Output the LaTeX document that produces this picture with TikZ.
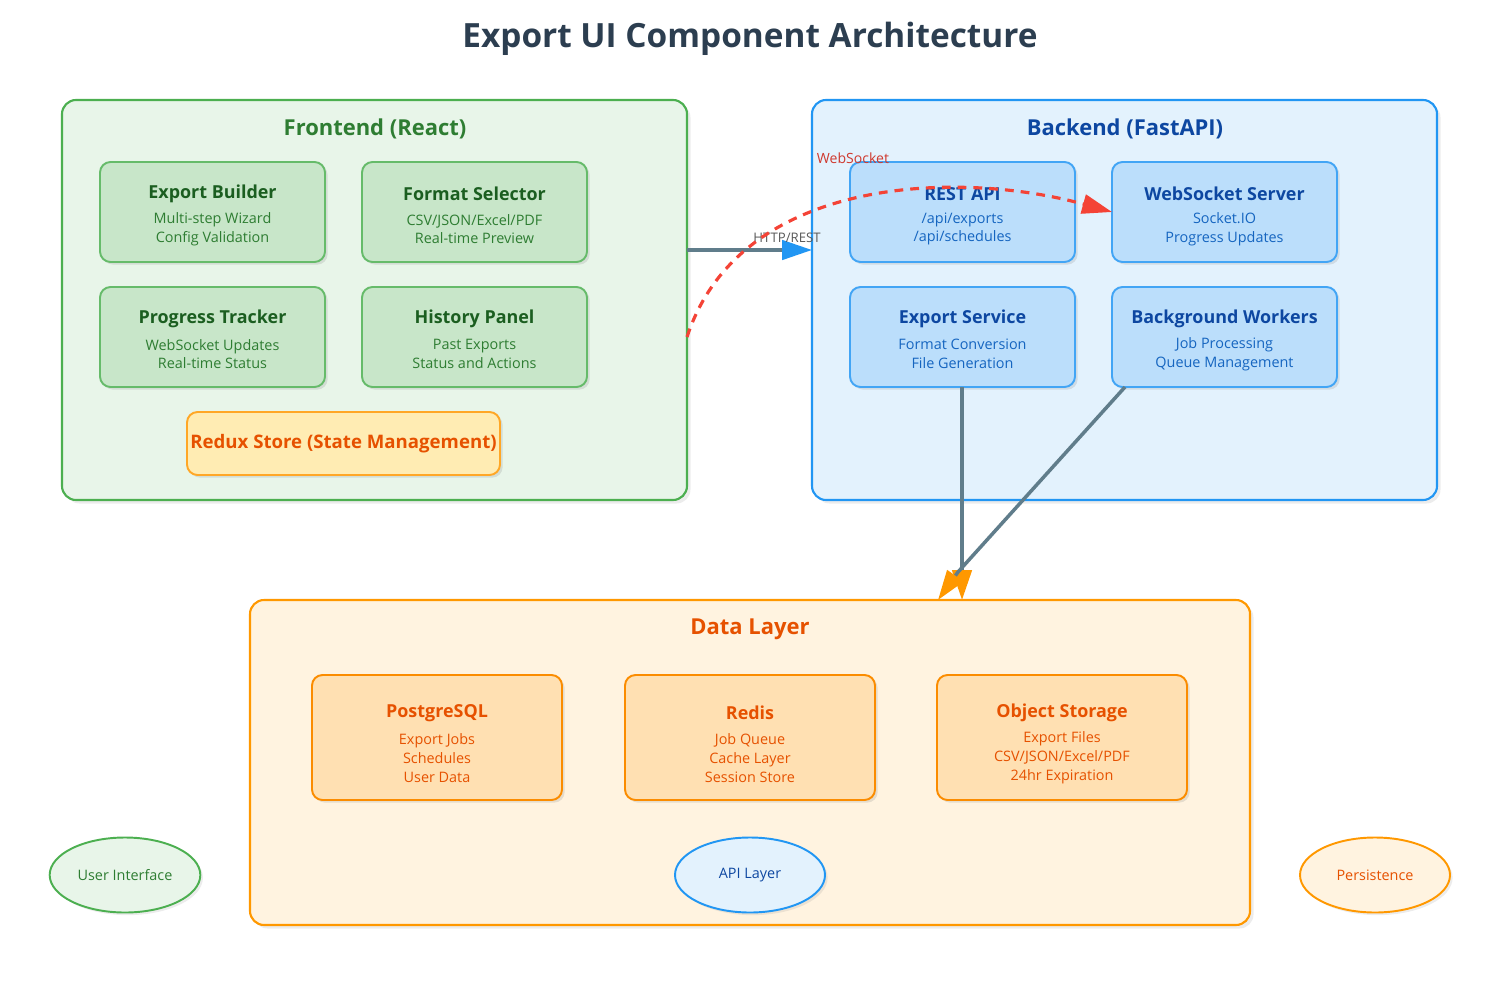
\documentclass[tikz,border=0pt]{standalone}
\usepackage{fontspec}
\setmainfont{Open Sans}
\usetikzlibrary{arrows.meta,shadows,shapes.geometric}
\definecolor{gB}{HTML}{E8F5E9}\definecolor{gS}{HTML}{4CAF50}\definecolor{gI}{HTML}{C8E6C9}\definecolor{gIS}{HTML}{66BB6A}
\definecolor{gT}{HTML}{1B5E20}\definecolor{gT2}{HTML}{2E7D32}
\definecolor{bB}{HTML}{E3F2FD}\definecolor{bS}{HTML}{2196F3}\definecolor{bI}{HTML}{BBDEFB}\definecolor{bIS}{HTML}{42A5F5}
\definecolor{bT}{HTML}{0D47A1}\definecolor{bT2}{HTML}{1565C0}
\definecolor{oB}{HTML}{FFF3E0}\definecolor{oS}{HTML}{FF9800}\definecolor{oI}{HTML}{FFE0B2}\definecolor{oIS}{HTML}{FB8C00}
\definecolor{oT}{HTML}{E65100}\definecolor{rY}{HTML}{FFECB3}\definecolor{rYS}{HTML}{FFA726}
\definecolor{ttl}{HTML}{2C3E50}\definecolor{ar}{HTML}{607D8B}\definecolor{rd}{HTML}{F44336}
\begin{document}
\begin{tikzpicture}[x=0.02cm,y=-0.02cm,
 grp/.style={draw=#1,line width=1.2pt,rounded corners=8pt,drop shadow={opacity=0.15,shadow xshift=2pt,shadow yshift=-2pt}},
 card/.style={draw=#1,line width=1.1pt,rounded corners=6pt,drop shadow={opacity=0.2,shadow xshift=1.5pt,shadow yshift=-1.5pt}},
 gh/.style={font=\bfseries\fontsize{12.5}{14}\selectfont},
 ct/.style={font=\bfseries\fontsize{10.2}{12}\selectfont},
 cs/.style={font=\fontsize{8.2}{10.7}\selectfont,align=center},
 leg/.style={ellipse,draw=#1,line width=1.1pt,minimum width=150*0.02cm,minimum height=75*0.02cm,font=\fontsize{8.2}{10}\selectfont,drop shadow={opacity=0.15,shadow xshift=1.5pt,shadow yshift=-1.5pt}},
 tip/.style={-{Triangle[length=17pt,width=11pt,color=#1]}},
]
\useasboundingbox (0,0) rectangle (1500,1000);
\node[font=\bfseries\fontsize{19}{22}\selectfont,text=ttl] (title) at (750,39) {Export UI Component Architecture};
% Frontend
\fill[gB,grp=gS] (62,100) rectangle (687,500);
\node[gh,text=gT2] (fet) at (375,129) {Frontend (React)};
\foreach \x/\y/\t/\a/\b/\n in {100/162/Export Builder/Multi-step Wizard/Config Validation/eb,362/162/Format Selector/{CSV/JSON/Excel/PDF}/Real-time Preview/fs,100/287/Progress Tracker/WebSocket Updates/Real-time Status/pt,362/287/History Panel/Past Exports/Status and Actions/hp}{
 \fill[gI,card=gIS] (\x,\y) rectangle ++(225,100);
 \node[ct,text=gT] (\n) at (\x+112.5,\y+32) {\t};
 \node[cs,text=gT2] (\n s) at (\x+112.5,\y+67) {\a\\\b};
}
\fill[rY,card=rYS] (187,412) rectangle (500,475);
\node[font=\bfseries\fontsize{10.6}{12}\selectfont,text=oT] (redux) at (343.5,444) {Redux Store (State Management)};
% Backend
\fill[bB,grp=bS] (812,100) rectangle (1437,500);
\node[gh,text=bT] (bet) at (1125,129) {Backend (FastAPI)};
\foreach \x/\y/\t/\a/\b/\n in {850/162/REST API/{/api/exports}/{/api/schedules}/ra,1112/162/WebSocket Server/Socket.IO/Progress Updates/ws,850/287/Export Service/Format Conversion/File Generation/es,1112/287/Background Workers/Job Processing/Queue Management/bw}{
 \fill[bI,card=bIS] (\x,\y) rectangle ++(225,100);
 \node[ct,text=bT] (\n) at (\x+112.5,\y+32) {\t};
 \node[cs,text=bT2] (\n s) at (\x+112.5,\y+67) {\a\\\b};
}
% Data
\fill[oB,grp=oS] (250,600) rectangle (1250,925);
\node[gh,text=oT] (dlt) at (750,629) {Data Layer};
\foreach \x/\t/\a/\b/\c/\n in {312/PostgreSQL/Export Jobs/Schedules/User Data/pg,625/Redis/Job Queue/Cache Layer/Session Store/rd,937/Object Storage/Export Files/{CSV/JSON/Excel/PDF}/24hr Expiration/os}{
 \fill[oI,card=oIS] (\x,675) rectangle ++(250,125);
 \node[ct,text=oT] (\n) at (\x+125,713) {\t};
 \node[cs,text=oT] (\n s) at (\x+125,758) {\a\\\b\\\c};
}
% legend
\node[leg=gS,fill=gB,text=gT2] (l1) at (125,875) {User Interface};
\node[leg=bS,fill=bB,text=bT] (l2) at (750,875) {API Layer};
\node[leg=oS,fill=oB,text=oT] (l3) at (1375,875) {Persistence};
% connectors
\coordinate (h1) at (687,250); \coordinate (h2) at (812,250);
\draw[ar,line width=2pt,tip=bS] (h1) -- (h2);
\node[font=\fontsize{7.5}{9}\selectfont,text=black!65] (hl) at (787,238) {HTTP/REST};
\coordinate (w1) at (687,337); \coordinate (w2) at (1112,212);
\draw[rd,line width=1.8pt,dash pattern=on 5pt off 4pt,tip=rd] (w1) .. controls (740,175) and (960,170) .. (w2);
\node[font=\fontsize{8}{9}\selectfont,text=rd!85!black] (wl) at (853,158) {WebSocket};
\coordinate (d1) at (962,600); \coordinate (d2) at (938,600);
\draw[ar,line width=2pt,tip=oS] (962,387) -- (d1);
\draw[ar,line width=2pt,tip=oS] (1125,387) -- (958,572) -- (d2);
\end{tikzpicture}
\end{document}
